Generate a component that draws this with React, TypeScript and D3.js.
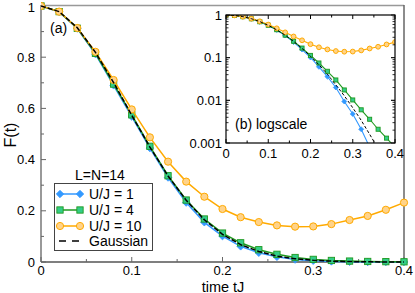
import React from "react";
import * as d3 from "d3";

// sample times (tJ)
const times = [0, 0.02, 0.04, 0.06, 0.08, 0.1, 0.12, 0.14, 0.16, 0.18, 0.2, 0.22, 0.24, 0.26, 0.28, 0.3, 0.32, 0.34, 0.36, 0.38, 0.4];

// fidelity F(t)
const u1 = [1, 0.977, 0.912, 0.812, 0.69, 0.568, 0.445, 0.33, 0.232, 0.155, 0.101, 0.061, 0.036, 0.02, 0.0094, 0.0048, 0.0021, 0.0008, 0.0003, 0.0001, 0.00004];
const u4 = [1, 0.978, 0.913, 0.815, 0.695, 0.575, 0.452, 0.337, 0.242, 0.168, 0.113, 0.075, 0.048, 0.03, 0.0175, 0.0102, 0.006, 0.0036, 0.0021, 0.0013, 0.0008];
const u10 = [1, 0.978, 0.914, 0.821, 0.711, 0.596, 0.487, 0.392, 0.314, 0.255, 0.207, 0.175, 0.156, 0.143, 0.138, 0.139, 0.148, 0.164, 0.18, 0.204, 0.232];
const gauss = [1, 0.978, 0.915, 0.819, 0.701, 0.573, 0.449, 0.336, 0.241, 0.165, 0.108, 0.068, 0.041, 0.023, 0.0128, 0.0067, 0.0034, 0.0016, 0.00074, 0.00033, 0.00014];

const xTicks = [0, 0.1, 0.2, 0.3, 0.4];
const yTicks = [0, 0.2, 0.4, 0.6, 0.8, 1];
const yTickLabels = ["0", "0.2", "0.4", "0.6", "0.8", "1"];
const logTicks = [0.001, 0.01, 0.1, 1];
const logTickLabels = ["0.001", "0.01", "0.1", "1"];
const legendLabels = ["U/J = 1", "U/J = 4", "U/J = 10", "Gaussian"];

const BLUE = "#3399ff";
const GREEN = "#1f991f";
const GREEN_FILL = "#33cc88";
const ORANGE = "#ffaa00";
const ORANGE_FILL = "#ffd38a";
const FONT = "Liberation Sans, Arial, sans-serif";

type Pt = [number, number];

function Marker({ kind, x, y, s }: { kind: string; x: number; y: number; s: number }) {
  if (kind === "diamond") {
    const r = s * 0.62;
    return <path d={`M${x},${y - r}L${x + r},${y}L${x},${y + r}L${x - r},${y}Z`} fill={BLUE} stroke={BLUE} strokeWidth={0.8} />;
  }
  if (kind === "square") {
    const r = s * 0.45;
    return <rect x={x - r} y={y - r} width={2 * r} height={2 * r} fill={GREEN_FILL} stroke={GREEN} strokeWidth={0.9} />;
  }
  return <circle cx={x} cy={y} r={s * 0.48} fill={ORANGE_FILL} stroke={ORANGE} strokeWidth={1} />;
}

function Series({ pts, color, kind, s, lw }: { pts: Pt[]; color: string; kind: string; s: number; lw: number }) {
  const line = d3.line<Pt>().x((d) => d[0]).y((d) => d[1]);
  return (
    <g>
      <path d={line(pts) || ""} fill="none" stroke={color} strokeWidth={lw} />
      {pts.map((p, i) => (
        <Marker key={i} kind={kind} x={p[0]} y={p[1]} s={s} />
      ))}
    </g>
  );
}

export default function App() {
  // main panel
  const x = d3.scaleLinear().domain([0, 0.4]).range([41, 404]);
  const y = d3.scaleLinear().domain([0, 1]).range([262, 6]);
  // inset panel
  const xi = d3.scaleLinear().domain([0, 0.4]).range([226, 395]);
  const yi = d3.scaleLog().domain([0.001, 1]).range([143, 15]);

  const mainPts = (vals: number[]): Pt[] => times.map((t, i) => [x(t), y(vals[i])]);
  const insetPts = (vals: number[]): Pt[] => times.map((t, i) => [xi(t), yi(vals[i])]);
  const line = d3.line<Pt>().x((d) => d[0]).y((d) => d[1]);

  const minorX = d3.range(0, 0.401, 0.05);
  const minorY = d3.range(0, 1.001, 0.1);
  const minorLog: number[] = [];
  [0.001, 0.01, 0.1].forEach((dec) => {
    for (let k = 1; k <= 10; k++) minorLog.push(dec * k);
  });

  const [X0, X1] = xi.range();
  const [Y0, Y1] = [yi(1), yi(0.001)];

  const legendY = [194, 210, 226, 241];
  const legendKinds = ["diamond", "square", "circle"];
  const legendColors = [BLUE, GREEN, ORANGE];
  const legendSize = [6, 7, 7.5];

  return (
    <svg width={415} height={293} style={{ position: "absolute", left: 0, top: 0 }} fontFamily={FONT}>
      <rect width={415} height={293} fill="#fff" />
      <defs>
        <clipPath id="mainclip">
          <rect x={41} y={0} width={368} height={266} />
        </clipPath>
        <clipPath id="insetclip">
          <rect x={X0} y={Y0} width={X1 - X0} height={Y1 - Y0} />
        </clipPath>
      </defs>

      {/* main frame */}
      <line x1={41} x2={404} y1={5.5} y2={5.5} stroke="#999" strokeWidth={1.5} />
      <line x1={404} x2={404} y1={5} y2={262} stroke="#666" strokeWidth={1.5} />
      <line x1={41} x2={41} y1={5} y2={262} stroke="#777" strokeWidth={1.5} />
      <line x1={41} x2={404} y1={262} y2={262} stroke="#555" strokeWidth={1.5} />

      {/* main ticks */}
      {minorX.map((t, i) => (
        <line key={"mx" + i} x1={x(t)} x2={x(t)} y1={262} y2={i % 2 === 0 ? 257 : 259} stroke="#666" />
      ))}
      {minorY.map((v, i) => (
        <line key={"my" + i} x1={41} x2={i % 2 === 0 ? 46 : 44} y1={y(v)} y2={y(v)} stroke="#666" />
      ))}
      {xTicks.map((t) => (
        <text key={"xl" + t} x={x(t)} y={275} fontSize={13} textAnchor="middle" fill="#000">
          {t === 0 ? "0" : t.toString()}
        </text>
      ))}
      {yTicks.map((v, i) => (
        <text key={"yl" + v} x={35} y={Math.max(y(v), 7)} dy="0.36em" fontSize={13} textAnchor="end" fill="#000">
          {yTickLabels[i]}
        </text>
      ))}
      <text x={223} y={291.5} fontSize={14.5} textAnchor="middle">time tJ</text>
      <text transform="translate(16,135) rotate(-90)" fontSize={16} textAnchor="middle">F(t)</text>
      <text x={50} y={33} fontSize={14}>(a)</text>

      {/* main series */}
      <g clipPath="url(#mainclip)">
        <Series pts={mainPts(u1)} color={BLUE} kind="diamond" s={6} lw={1.5} />
        <Series pts={mainPts(u4)} color={GREEN} kind="square" s={7} lw={1.5} />
        <Series pts={mainPts(u10)} color={ORANGE} kind="circle" s={7.5} lw={1.5} />
        <path d={line(mainPts(gauss)) || ""} fill="none" stroke="#000" strokeWidth={1.5} strokeDasharray="5,2" />
      </g>

      {/* legend */}
      <text x={100} y={180} fontSize={14} textAnchor="middle">L=N=14</text>
      <rect x={54.5} y={183.5} width={98} height={67} fill="#fff" stroke="#444" strokeWidth={1} />
      {legendLabels.map((lab, i) => (
        <g key={lab}>
          {i < 3 ? (
            <g>
              <line x1={60} x2={80} y1={legendY[i]} y2={legendY[i]} stroke={legendColors[i]} strokeWidth={1.5} />
              <Marker kind={legendKinds[i]} x={60} y={legendY[i]} s={legendSize[i]} />
              <Marker kind={legendKinds[i]} x={80} y={legendY[i]} s={legendSize[i]} />
            </g>
          ) : (
            <line x1={59} x2={81} y1={legendY[i]} y2={legendY[i]} stroke="#000" strokeWidth={1.5} strokeDasharray="7,6" />
          )}
          <text x={89} y={legendY[i]} dy="0.36em" fontSize={14}>{lab}</text>
        </g>
      ))}

      {/* inset */}
      <rect x={X0} y={Y0} width={X1 - X0} height={Y1 - Y0} fill="#fff" />
      <g clipPath="url(#insetclip)">
        <Series pts={insetPts(u1)} color={BLUE} kind="diamond" s={4} lw={1.1} />
        <Series pts={insetPts(u4)} color={GREEN} kind="square" s={4.5} lw={1.1} />
        <Series pts={insetPts(u10)} color={ORANGE} kind="circle" s={5} lw={1.1} />
        <path d={line(insetPts(gauss)) || ""} fill="none" stroke="#000" strokeWidth={1} strokeDasharray="3,2" />
      </g>
      <rect x={X0} y={Y0} width={X1 - X0} height={Y1 - Y0} fill="none" stroke="#000" strokeWidth={1.2} />
      {minorX.map((t, i) => (
        <g key={"ix" + i}>
          <line x1={xi(t)} x2={xi(t)} y1={Y1} y2={Y1 - (i % 2 === 0 ? 4 : 2.5)} stroke="#000" />
          <line x1={xi(t)} x2={xi(t)} y1={Y0} y2={Y0 + (i % 2 === 0 ? 4 : 2.5)} stroke="#000" />
        </g>
      ))}
      {minorLog.map((v, i) => {
        const major = logTicks.some((m) => Math.abs(m - v) < 1e-9);
        const len = major ? 4 : 2.5;
        return (
          <g key={"iy" + i}>
            <line x1={X0} x2={X0 + len} y1={yi(v)} y2={yi(v)} stroke="#000" strokeWidth={0.8} />
            <line x1={X1} x2={X1 - len} y1={yi(v)} y2={yi(v)} stroke="#000" strokeWidth={0.8} />
          </g>
        );
      })}
      {xTicks.map((t) => (
        <text key={"ixl" + t} x={xi(t)} y={158} fontSize={13} textAnchor="middle">
          {t === 0 ? "0" : t.toString()}
        </text>
      ))}
      {logTicks.map((v, i) => (
        <text key={"iyl" + v} x={222} y={yi(v)} dy="0.36em" fontSize={13} textAnchor="end">
          {logTickLabels[i]}
        </text>
      ))}
      <text x={235} y={129} fontSize={14}>(b) logscale</text>
    </svg>
  );
}
